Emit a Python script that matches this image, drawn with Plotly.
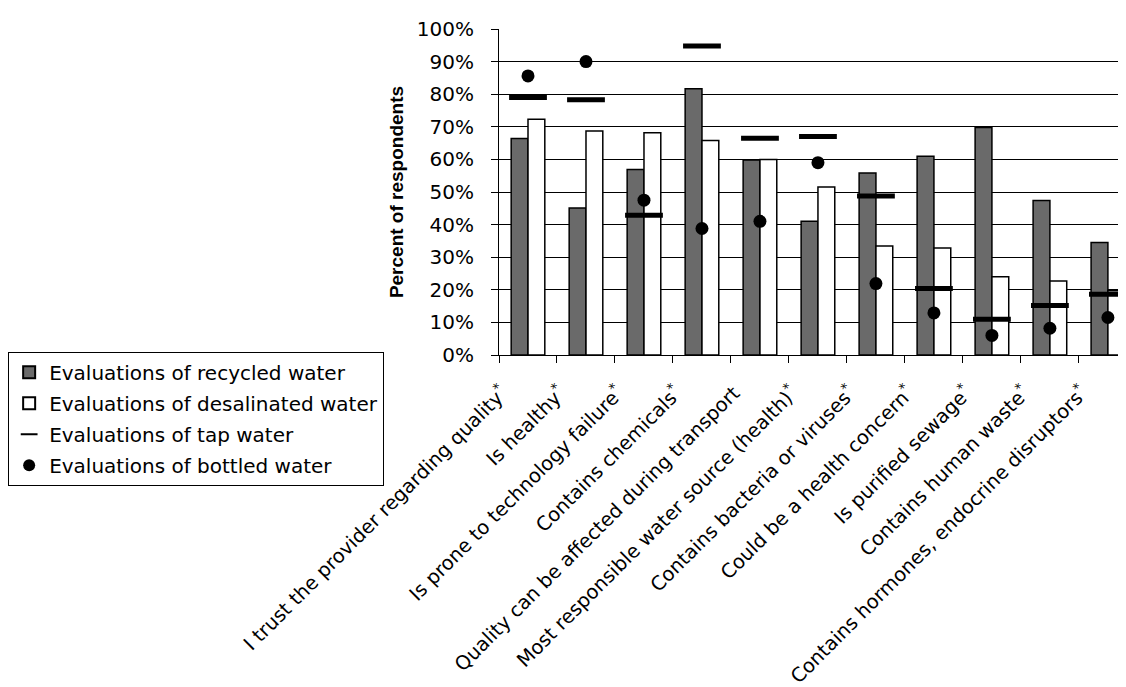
import plotly.graph_objects as go

categories = [
    "I trust the provider regarding quality<sup>*</sup>",
    "Is healthy<sup>*</sup>",
    "Is prone to technology failure<sup>*</sup>",
    "Contains chemicals<sup>*</sup>",
    "Quality can be affected during transport",
    "Most responsible water source (health)<sup>*</sup>",
    "Contains bacteria or viruses<sup>*</sup>",
    "Could be a health concern<sup>*</sup>",
    "Is purified sewage<sup>*</sup>",
    "Contains human waste<sup>*</sup>",
    "Contains hormones, endocrine disruptors<sup>*</sup>",
]
recycled = [66.4, 45.1, 56.9, 81.7, 59.8, 41.0, 55.8, 61.0, 69.8, 47.4, 34.5]
desalinated = [72.3, 68.7, 68.2, 65.8, 60.0, 51.5, 33.4, 32.8, 24.0, 22.7, 19.7]
tap = [79.0, 78.3, 42.9, 94.8, 66.5, 67.0, 48.8, 20.4, 11.0, 15.2, 18.6]
bottled = [85.6, 90.0, 47.5, 38.8, 41.0, 59.0, 21.9, 12.9, 6.0, 8.2, 11.5]

names = [
    "Evaluations of recycled water",
    "Evaluations of desalinated water",
    "Evaluations of tap water",
    "Evaluations of bottled water",
]

FONT = "DejaVu Sans"

fig = go.Figure()
fig.add_trace(go.Bar(
    x=categories, y=recycled, name=names[0], legendgroup="a",
    marker=dict(color="#6a6a6a", line=dict(color="black", width=1.5)),
))
fig.add_trace(go.Bar(
    x=categories, y=desalinated, name=names[1], legendgroup="b",
    marker=dict(color="white", line=dict(color="black", width=1.5)),
))
fig.add_trace(go.Scatter(
    x=categories, y=tap, name=names[2], mode="markers", legendgroup="c",
    marker=dict(symbol="line-ew", size=27, color="black",
                line=dict(color="black", width=5)),
))
fig.add_trace(go.Scatter(
    x=categories, y=bottled, name=names[3], mode="markers", legendgroup="d",
    marker=dict(symbol="circle", size=13, color="black"),
))

fig.update_layout(
    width=1126, height=687,
    margin=dict(l=489, r=0, t=21, b=340, pad=0),
    paper_bgcolor="white", plot_bgcolor="white",
    font=dict(family=FONT, size=19, color="black"),
    barmode="group", bargap=0.42, bargroupgap=0,
    showlegend=True,
    legend=dict(
        x=-0.773, y=0.01, xanchor="left", yanchor="top",
        bordercolor="black", borderwidth=1, bgcolor="white",
        font=dict(family=FONT, size=20, color="black"),
        tracegroupgap=2, itemsizing="constant",
    ),
)
fig.update_xaxes(
    range=[-0.5, 10.45], showgrid=False, showline=True, linecolor="black",
    linewidth=1, ticks="outside", tickson="boundaries", ticklen=7,
    tickcolor="black", tickangle=-45,
    ticklabelstandoff=18, ticklabelshift=-26,
    tickfont=dict(family=FONT, size=19.5, color="black"),
)
fig.update_yaxes(
    range=[0, 100], dtick=10, ticksuffix="%", showgrid=True,
    gridcolor="black", gridwidth=1, showline=True, linecolor="black",
    linewidth=1, ticks="outside", ticklen=7, tickcolor="black",
    ticklabelstandoff=13, zeroline=False,
    tickfont=dict(family=FONT, size=20, color="black"),
    title=dict(text="<b>Percent of respondents</b>", standoff=8,
               font=dict(family="Liberation Sans", size=19, color="black")),
)

fig.write_html("out.html")
